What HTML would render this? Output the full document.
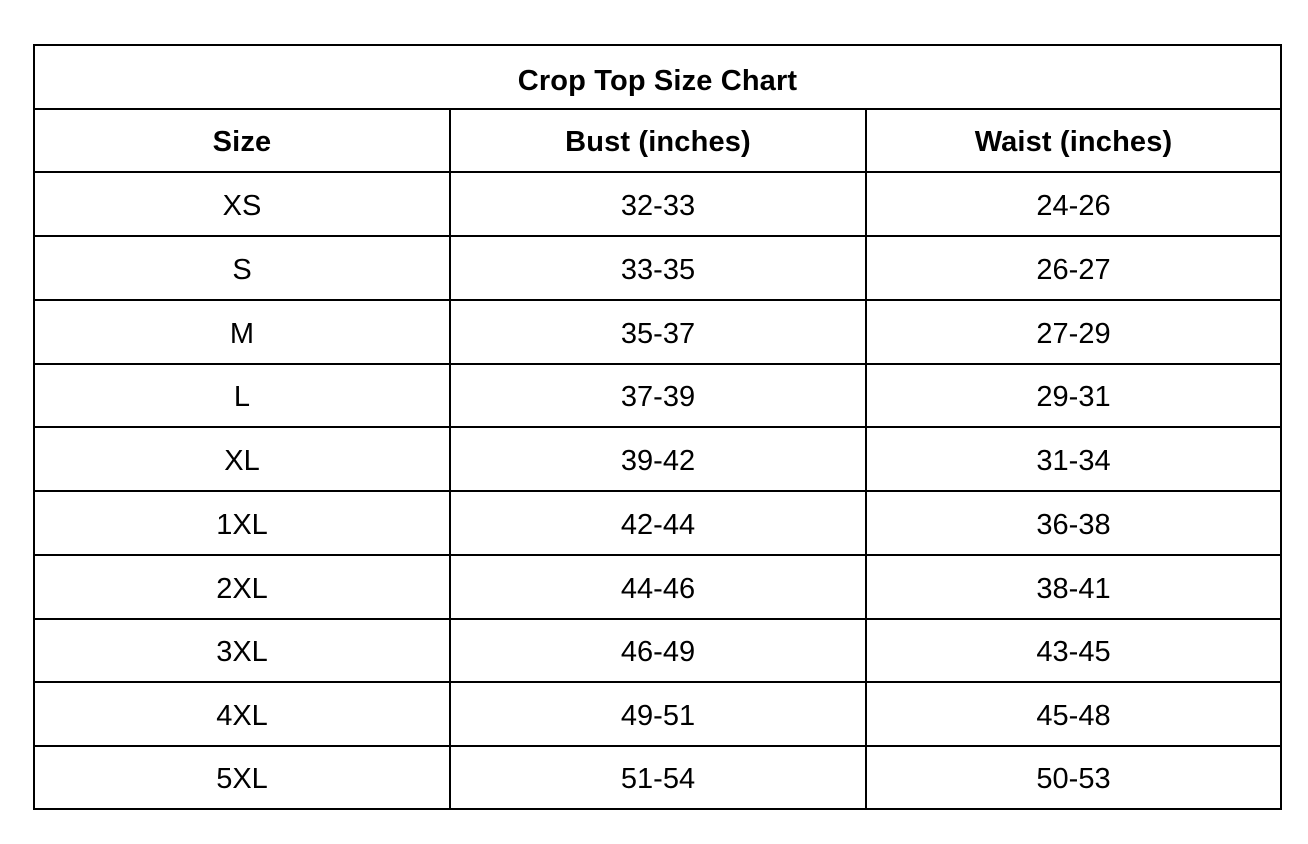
<!DOCTYPE html>
<html>
<head>
<meta charset="utf-8">
<style>
  html, body { margin: 0; padding: 0; background: #fff; }
  body { width: 1308px; height: 844px; position: relative; overflow: hidden;
         font-family: "Liberation Sans", Arial, sans-serif; color: #000; }
  .h { position: absolute; left: 33px; width: 1249px; height: 2px; background: #000; }
  .v { position: absolute; width: 2px; background: #000; }
  .c { position: absolute; display: flex; align-items: center; justify-content: center;
       font-size: 29px; white-space: nowrap; line-height: 1; transform: translateY(2px); }
  .b { font-weight: bold; letter-spacing: 0.15px; }
</style>
</head>
<body>
<!-- horizontal lines -->
<div class="h" style="top:44px"></div>
<div class="h" style="top:108px"></div>
<div class="h" style="top:171px"></div>
<div class="h" style="top:235px"></div>
<div class="h" style="top:299px"></div>
<div class="h" style="top:363px"></div>
<div class="h" style="top:426px"></div>
<div class="h" style="top:490px"></div>
<div class="h" style="top:554px"></div>
<div class="h" style="top:618px"></div>
<div class="h" style="top:681px"></div>
<div class="h" style="top:745px"></div>
<div class="h" style="top:808px"></div>
<!-- vertical lines -->
<div class="v" style="left:33px; top:44px; height:766px"></div>
<div class="v" style="left:1280px; top:44px; height:766px"></div>
<div class="v" style="left:449px; top:108px; height:702px"></div>
<div class="v" style="left:865px; top:108px; height:702px"></div>

<!-- title -->
<div class="c b" style="left:34px; width:1247px; top:47px; height:64px;">Crop Top Size Chart</div>

<!-- header -->
<div class="c b" style="left:34px; width:416px; top:109px; height:63px;">Size</div>
<div class="c b" style="left:450px; width:416px; top:109px; height:63px;">Bust (inches)</div>
<div class="c b" style="left:866px; width:415px; top:109px; height:63px;">Waist (inches)</div>

<!-- rows -->
<div class="c" style="left:34px; width:416px; top:172px; height:64px;">XS</div>
<div class="c" style="left:450px; width:416px; top:172px; height:64px;">32-33</div>
<div class="c" style="left:866px; width:415px; top:172px; height:64px;">24-26</div>

<div class="c" style="left:34px; width:416px; top:236px; height:64px;">S</div>
<div class="c" style="left:450px; width:416px; top:236px; height:64px;">33-35</div>
<div class="c" style="left:866px; width:415px; top:236px; height:64px;">26-27</div>

<div class="c" style="left:34px; width:416px; top:300px; height:64px;">M</div>
<div class="c" style="left:450px; width:416px; top:300px; height:64px;">35-37</div>
<div class="c" style="left:866px; width:415px; top:300px; height:64px;">27-29</div>

<div class="c" style="left:34px; width:416px; top:364px; height:63px;">L</div>
<div class="c" style="left:450px; width:416px; top:364px; height:63px;">37-39</div>
<div class="c" style="left:866px; width:415px; top:364px; height:63px;">29-31</div>

<div class="c" style="left:34px; width:416px; top:427px; height:64px;">XL</div>
<div class="c" style="left:450px; width:416px; top:427px; height:64px;">39-42</div>
<div class="c" style="left:866px; width:415px; top:427px; height:64px;">31-34</div>

<div class="c" style="left:34px; width:416px; top:491px; height:64px;">1XL</div>
<div class="c" style="left:450px; width:416px; top:491px; height:64px;">42-44</div>
<div class="c" style="left:866px; width:415px; top:491px; height:64px;">36-38</div>

<div class="c" style="left:34px; width:416px; top:555px; height:64px;">2XL</div>
<div class="c" style="left:450px; width:416px; top:555px; height:64px;">44-46</div>
<div class="c" style="left:866px; width:415px; top:555px; height:64px;">38-41</div>

<div class="c" style="left:34px; width:416px; top:619px; height:63px;">3XL</div>
<div class="c" style="left:450px; width:416px; top:619px; height:63px;">46-49</div>
<div class="c" style="left:866px; width:415px; top:619px; height:63px;">43-45</div>

<div class="c" style="left:34px; width:416px; top:682px; height:64px;">4XL</div>
<div class="c" style="left:450px; width:416px; top:682px; height:64px;">49-51</div>
<div class="c" style="left:866px; width:415px; top:682px; height:64px;">45-48</div>

<div class="c" style="left:34px; width:416px; top:746px; height:63px;">5XL</div>
<div class="c" style="left:450px; width:416px; top:746px; height:63px;">51-54</div>
<div class="c" style="left:866px; width:415px; top:746px; height:63px;">50-53</div>
</body>
</html>
